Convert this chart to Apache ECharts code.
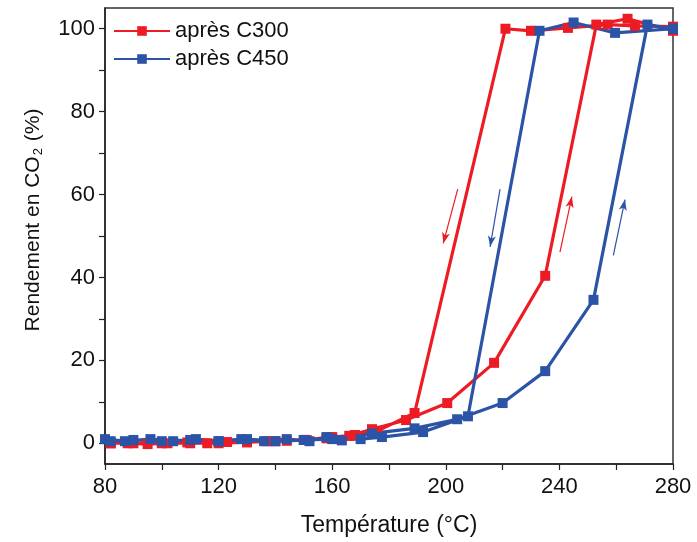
<!DOCTYPE html>
<html>
<head>
<meta charset="utf-8">
<script src="https://cdn.jsdelivr.net/npm/echarts@6/dist/echarts.min.js"></script>
<style>html,body{margin:0;padding:0;background:#fff}#c{width:697px;height:542px}</style>
</head>
<body>
<div id="c"></div>
<script>
// Data (temperature °C, CO2 yield %), heating branch followed by cooling branch
const seriesNames = ['après C300', 'après C450'];
const c300_T = [82, 88, 95, 102, 109, 116, 123, 130, 137, 144, 151, 158, 166, 174, 186, 200.5, 217, 235, 253, 264, 280,
                280, 266.6, 257, 243, 230, 221, 189, 176, 168, 160, 150, 140, 130, 120, 110, 100, 90, 82];
const c300_Y = [0, 0, -0.2, 0, 0.2, 0, 0.3, 0.2, 0.5, 0.6, 0.8, 1.2, 1.8, 3.4, 5.6, 9.7, 19.4, 40.4, 101, 102.4, 99.5,
                100.5, 100.7, 101, 100.2, 99.5, 100, 7.3, 3, 2, 1.5, 0.8, 0.5, 0.3, 0, 0, 0, 0, 0];
const c450_T = [80, 87, 96, 104, 112, 120, 128, 136, 144, 152, 158, 163.4, 174, 189, 204, 220, 235, 252, 271, 280,
                280, 259.6, 245, 233, 207.8, 192, 177.5, 170, 160, 150, 140, 130, 120, 110, 100, 90, 82];
const c450_Y = [1, 0.5, 1, 0.5, 1, 0.5, 1, 0.5, 1, 0.5, 1.5, 0.7, 2.4, 3.6, 5.8, 9.7, 17.4, 34.6, 101, 100,
                100, 99, 101.5, 99.5, 6.5, 2.7, 1.5, 1, 1, 0.8, 0.5, 1, 0.5, 0.8, 0.5, 0.8, 0.5];
// Direction arrows [startT, startY, endT, endY]
const c300_arrows = [[204.2, 61.3, 199.1, 48.2], [240.2, 46.1, 244.4, 59.5]];
const c450_arrows = [[219.1, 61.3, 215.6, 47.4], [259.0, 45.3, 263.1, 58.8]];
const xLabelValues = [80, 120, 160, 200, 240, 280];
const yLabelValues = [0, 20, 40, 60, 80, 100];
const yTickValues = [0, 10, 20, 30, 40, 50, 60, 70, 80, 90, 100];

const colors = ['#ED1C24', '#2B53A6'];
const zip = (a, b) => a.map((v, i) => [v, b[i]]);
const arrowData = arr => arr.map(a => [{coord: [a[0], a[1]]}, {coord: [a[2], a[3]]}]);

const chart = echarts.init(document.getElementById('c'), null, {renderer: 'canvas'});
const font = 'Liberation Sans, Arial, sans-serif';
const mkSeries = (name, T, Y, color, arrows) => ({
  name: name,
  type: 'line',
  data: zip(T, Y),
  symbol: 'rect',
  symbolSize: 10,
  color: color,
  lineStyle: {width: 3.2, color: color},
  itemStyle: {color: color},
  animation: false,
  markLine: {
    silent: true,
    symbol: ['none', 'arrow'],
    symbolSize: [6, 11],
    label: {show: false},
    lineStyle: {color: color, width: 1.2, type: 'solid'},
    data: arrowData(arrows)
  }
});

chart.setOption({
  animation: false,
  backgroundColor: '#fff',
  textStyle: {fontFamily: font},
  grid: {left: 105, right: 24, top: 8, bottom: 78, show: true, borderColor: '#333', borderWidth: 1.5, backgroundColor: 'transparent'},
  legend: {
    left: 108, top: 15, orient: 'vertical', itemGap: 6,
    itemWidth: 56, itemHeight: 12,
    textStyle: {fontSize: 22, color: '#111', fontFamily: font},
    data: seriesNames
  },
  xAxis: {
    type: 'value', min: 80, max: 280, interval: 20,
    name: 'Température (°C)', nameLocation: 'middle', nameGap: 50,
    nameTextStyle: {fontSize: 23, color: '#111', fontFamily: font},
    axisLine: {onZero: false, lineStyle: {color: '#222', width: 1.5}},
    axisTick: {show: true, length: 6, lineStyle: {color: '#222', width: 1.2}},
    axisLabel: {customValues: xLabelValues, fontSize: 22, color: '#111', margin: 12, fontFamily: font},
    splitLine: {show: false}
  },
  yAxis: {
    type: 'value', min: -5, max: 105,
    name: '{n|Rendement en CO}{s|2}{n| (%)}', nameLocation: 'middle', nameGap: 60, nameRotate: 90,
    nameTextStyle: {
      fontSize: 21, color: '#111', fontFamily: font, padding: [0, 0, 0, 32],
      rich: {
        n: {fontSize: 21, color: '#111', fontFamily: font},
        s: {fontSize: 13, color: '#111', fontFamily: font, verticalAlign: 'bottom', padding: [10, 1, 0, 1]}
      }
    },
    axisLine: {onZero: false, lineStyle: {color: '#222', width: 1.5}},
    axisTick: {show: true, length: 6, customValues: yTickValues, lineStyle: {color: '#222', width: 1.2}},
    axisLabel: {customValues: yLabelValues, fontSize: 22, color: '#111', margin: 10, fontFamily: font},
    splitLine: {show: false}
  },
  series: [
    mkSeries(seriesNames[0], c300_T, c300_Y, colors[0], c300_arrows),
    mkSeries(seriesNames[1], c450_T, c450_Y, colors[1], c450_arrows)
  ]
});
</script>
</body>
</html>
